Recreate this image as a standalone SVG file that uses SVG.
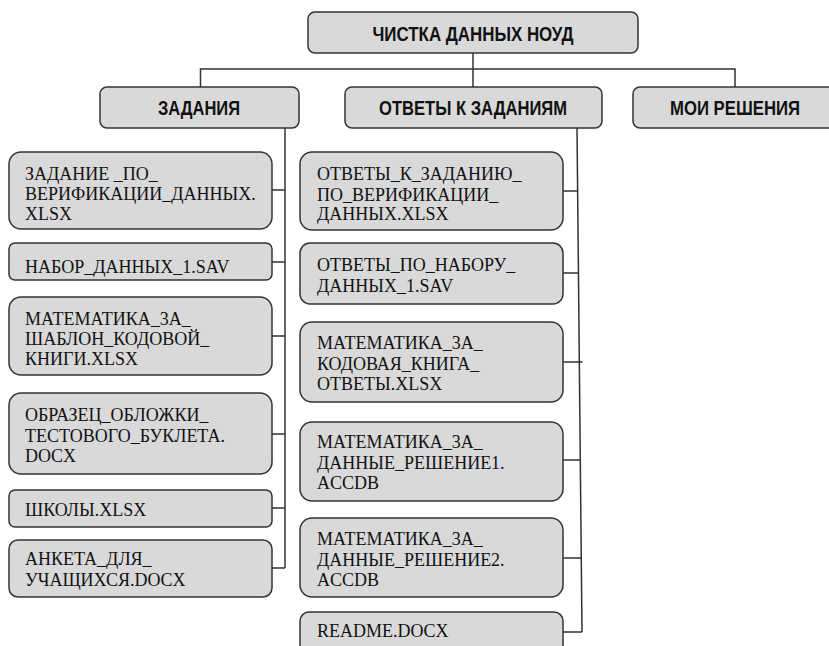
<svg xmlns="http://www.w3.org/2000/svg" width="829" height="646" viewBox="0 0 829 646">
  <style>
    .box { fill: #d9d9d9; stroke: #333333; stroke-width: 1.5; }
    .head { font-family: "Liberation Sans", Arial, sans-serif; font-weight: bold; font-size: 19.5px; fill: #111111; text-anchor: middle; }
    .file { font-family: "Liberation Serif", "Times New Roman", serif; font-size: 18px; fill: #111111; }
    .wire { fill: none; stroke: #333333; stroke-width: 1.5; }
  </style>
  <rect width="829" height="646" fill="#ffffff"/>

  <!-- connectors -->
  <g id="connectors" class="wire">
    <path d="M473 53 V87"/>
    <path d="M200.5 87 V69 H735 V87"/>
    <!-- tasks spine -->
    <path d="M285 128 V568"/>
    <path d="M272 190 H285 M272 262 H285 M272 336 H285 M272 434 H285 M272 508 H285 M272 568 H285"/>
    <!-- answers spine -->
    <path d="M577 128 L582 632"/>
    <path d="M563 191 H578 M563 273 H578.5 M563 362 H582.5 M563 460 H581 M563 558 H581.5 M563 632 H582"/>
  </g>

  <!-- top level -->
  <g id="root">
    <rect class="box" x="308" y="12" width="330" height="41" rx="7"/>
    <text class="head" x="473" y="41" textLength="201" lengthAdjust="spacingAndGlyphs">ЧИСТКА ДАННЫХ НОУД</text>
  </g>

  <!-- second level -->
  <g id="tasks">
    <rect class="box" x="100" y="87" width="199" height="41" rx="7"/>
    <text class="head" x="199" y="115" textLength="82" lengthAdjust="spacingAndGlyphs">ЗАДАНИЯ</text>
  </g>
  <g id="answers">
    <rect class="box" x="345" y="87" width="257" height="41" rx="7"/>
    <text class="head" x="473" y="115" textLength="188" lengthAdjust="spacingAndGlyphs">ОТВЕТЫ К ЗАДАНИЯМ</text>
  </g>
  <g id="solutions">
    <rect class="box" x="633" y="87" width="205" height="41" rx="7"/>
    <text class="head" x="735" y="115" textLength="130" lengthAdjust="spacingAndGlyphs">МОИ РЕШЕНИЯ</text>
  </g>

  <!-- task files -->
  <g id="task-verification">
    <rect class="box" x="9" y="152" width="263" height="77" rx="12"/>
    <text class="file" x="25" y="180">ЗАДАНИЕ _ПО_</text>
    <text class="file" x="25" y="200">ВЕРИФИКАЦИИ_ДАННЫХ.</text>
    <text class="file" x="25" y="220">XLSX</text>
  </g>
  <g id="task-dataset">
    <rect class="box" x="9" y="243" width="263" height="37" rx="6"/>
    <text class="file" x="25" y="273">НАБОР_ДАННЫХ_1.SAV</text>
  </g>
  <g id="task-codebook">
    <rect class="box" x="9" y="297" width="263" height="78" rx="12"/>
    <text class="file" x="25" y="325">МАТЕМАТИКА_3А_</text>
    <text class="file" x="25" y="345">ШАБЛОН_КОДОВОЙ_</text>
    <text class="file" x="25" y="365">КНИГИ.XLSX</text>
  </g>
  <g id="task-cover">
    <rect class="box" x="9" y="393" width="263" height="81" rx="12"/>
    <text class="file" x="25" y="421">ОБРАЗЕЦ_ОБЛОЖКИ_</text>
    <text class="file" x="25" y="442">ТЕСТОВОГО_БУКЛЕТА.</text>
    <text class="file" x="25" y="462">DOCX</text>
  </g>
  <g id="task-schools">
    <rect class="box" x="9" y="490" width="263" height="37" rx="6"/>
    <text class="file" x="25" y="516">ШКОЛЫ.XLSX</text>
  </g>
  <g id="task-survey">
    <rect class="box" x="9" y="540" width="263" height="57" rx="9"/>
    <text class="file" x="25" y="565">АНКЕТА_ДЛЯ_</text>
    <text class="file" x="25" y="586">УЧАЩИХСЯ.DOCX</text>
  </g>

  <!-- answer files -->
  <g id="answer-verification">
    <rect class="box" x="300" y="152" width="263" height="78" rx="12"/>
    <text class="file" x="317" y="180">ОТВЕТЫ_К_ЗАДАНИЮ_</text>
    <text class="file" x="317" y="201">ПО_ВЕРИФИКАЦИИ_</text>
    <text class="file" x="317" y="220">ДАННЫХ.XLSX</text>
  </g>
  <g id="answer-dataset">
    <rect class="box" x="300" y="243" width="263" height="61" rx="10"/>
    <text class="file" x="317" y="271">ОТВЕТЫ_ПО_НАБОРУ_</text>
    <text class="file" x="317" y="292">ДАННЫХ_1.SAV</text>
  </g>
  <g id="answer-codebook">
    <rect class="box" x="300" y="322" width="263" height="80" rx="12"/>
    <text class="file" x="317" y="349">МАТЕМАТИКА_3А_</text>
    <text class="file" x="317" y="370">КОДОВАЯ_КНИГА_</text>
    <text class="file" x="317" y="390">ОТВЕТЫ.XLSX</text>
  </g>
  <g id="answer-solution1">
    <rect class="box" x="300" y="422" width="263" height="79" rx="12"/>
    <text class="file" x="317" y="448">МАТЕМАТИКА_3А_</text>
    <text class="file" x="317" y="469">ДАННЫЕ_РЕШЕНИЕ1.</text>
    <text class="file" x="317" y="489">ACCDB</text>
  </g>
  <g id="answer-solution2">
    <rect class="box" x="300" y="518" width="263" height="79" rx="12"/>
    <text class="file" x="317" y="545">МАТЕМАТИКА_3А_</text>
    <text class="file" x="317" y="566">ДАННЫЕ_РЕШЕНИЕ2.</text>
    <text class="file" x="317" y="586">ACCDB</text>
  </g>
  <g id="answer-readme">
    <rect class="box" x="300" y="612" width="263" height="50" rx="9"/>
    <text class="file" x="317" y="637">README.DOCX</text>
  </g>
</svg>
